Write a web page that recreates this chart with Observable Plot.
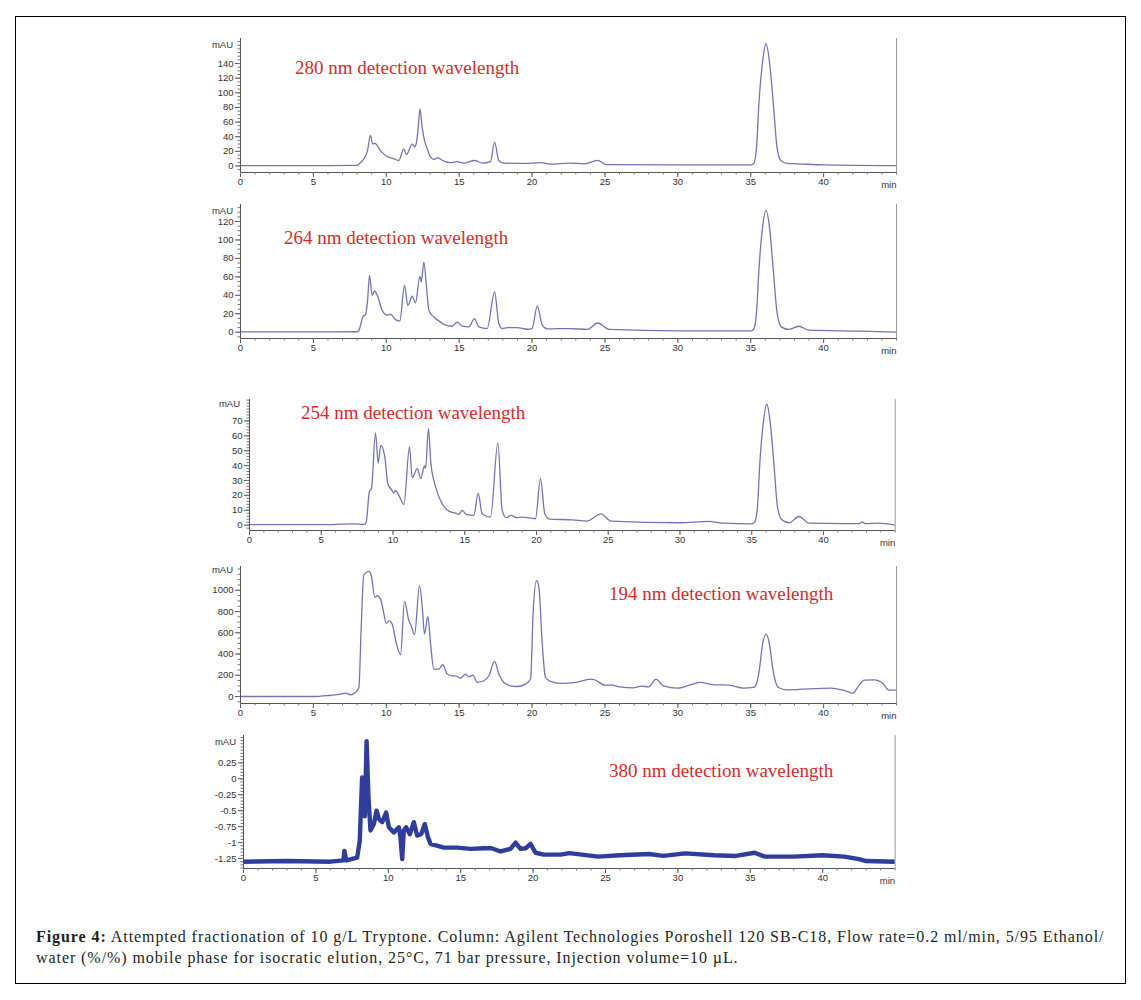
<!DOCTYPE html>
<html><head><meta charset="utf-8">
<script src="https://cdn.jsdelivr.net/npm/d3@7"></script>
<script src="https://cdn.jsdelivr.net/npm/@observablehq/plot@0.6"></script>
<style>
body{margin:0;background:#fff;}
#wrap{position:relative;width:1141px;height:1000px;overflow:hidden;}
#border{position:absolute;left:15px;top:16px;width:1111px;height:968px;border:1px solid #000;box-sizing:border-box;}
.panel{position:absolute;left:0;}
.lab{position:absolute;font-family:"Liberation Serif",serif;font-size:19px;line-height:20px;color:#d62b2b;white-space:nowrap;}
#cap{position:absolute;left:36px;top:926px;font-family:"Liberation Serif",serif;font-size:16px;line-height:21px;letter-spacing:0.93px;color:#231f20;white-space:nowrap;}
</style></head>
<body>
<div id="wrap">
<div id="border"></div>
<div id="cap"></div>
</div>
<script>
// ---- data ----
const xTicks = [0, 5, 10, 15, 20, 25, 30, 35, 40];
const xMinorTicks = d3.range(0, 46, 1);

const labels = ["280 nm detection wavelength", "264 nm detection wavelength", "254 nm detection wavelength", "194 nm detection wavelength", "380 nm detection wavelength"];

const t280 = [0, 5, 8.0, 8.2, 8.46, 8.7, 8.92, 9.06, 9.22, 9.6, 10.06, 10.52, 10.86, 11.2, 11.39, 11.78, 11.94, 12.05, 12.18, 12.31, 12.46, 12.62, 12.81, 13.04, 13.26, 13.54, 13.95, 14.4, 14.86, 15.3, 16.05, 16.58, 17.15, 17.43, 17.72, 18.06, 19.44, 20.58, 21.27, 22.6, 23.6, 24.5, 25.1, 30, 35.0, 35.2, 35.4, 35.56, 35.8, 36.05, 36.3, 36.55, 36.8, 37.05, 37.5, 38.2, 40, 45];
const v280 = [0.5, 0.5, 0.8, 4, 9.8, 20, 41.7, 30, 31, 21, 13, 9.8, 7.5, 23.5, 15.7, 30, 26, 30, 50, 78, 53, 35, 23.5, 12, 9, 11, 6.6, 4.5, 6, 4, 7.5, 4, 6, 32.5, 7.5, 4, 3.5, 4.5, 2.5, 4, 3, 7.7, 1.8, 1.4, 1.4, 3, 26, 85, 140, 167, 140, 85, 26, 7.7, 3.5, 3, 1.5, 0.5];

const t264 = [0, 5, 8.0, 8.12, 8.42, 8.58, 8.72, 8.85, 9.03, 9.19, 9.38, 9.72, 10.06, 10.29, 10.63, 10.93, 11.25, 11.48, 11.78, 12.0, 12.31, 12.4, 12.58, 12.76, 12.92, 13.26, 13.61, 13.95, 14.52, 14.87, 15.21, 15.67, 16.05, 16.35, 16.92, 17.43, 17.72, 17.95, 18.3, 18.98, 19.67, 20.0, 20.36, 20.7, 21.04, 22.6, 23.8, 24.5, 25.3, 30, 35.0, 35.2, 35.4, 35.56, 35.8, 36.05, 36.3, 36.55, 36.8, 37.1, 37.6, 38.3, 39.0, 42.5, 45];
const v264 = [0.3, 0.3, 0.5, 2, 17.6, 19, 35, 61.6, 40, 44.7, 40, 23.8, 18.4, 19.5, 13.7, 12.3, 50.8, 29, 39, 31.7, 60.5, 54.4, 76, 49, 23.8, 16.5, 12.3, 8.6, 6.5, 11, 6.5, 5.8, 14.8, 5.8, 4, 43.6, 9.4, 4, 5, 5, 3.2, 4, 28.5, 7.6, 3.6, 4, 3, 10, 3, 1.4, 1.4, 3, 22, 67, 112, 132, 112, 67, 22, 5.8, 3, 6.5, 2.2, 1.1, 0];

const t254 = [0, 5, 7.2, 8.0, 8.13, 8.36, 8.5, 8.78, 8.97, 9.15, 9.43, 9.64, 9.9, 10.06, 10.18, 10.41, 10.76, 11.15, 11.34, 11.69, 11.94, 12.2, 12.27, 12.47, 12.64, 12.85, 13.08, 13.43, 13.89, 14.36, 14.59, 14.82, 15.1, 15.63, 15.94, 16.21, 16.8, 17.31, 17.61, 17.89, 18.23, 18.65, 19.0, 19.93, 20.28, 20.58, 20.9, 22.5, 23.5, 24.5, 25.2, 30, 32, 33, 35, 35.2, 35.4, 35.56, 35.8, 36.05, 36.3, 36.55, 36.8, 37.1, 37.6, 38.3, 39, 42.5, 42.7, 42.9, 43.8, 45];
const v254 = [0.3, 0.3, 0.8, 0.5, 2, 22.7, 24.5, 62, 41.7, 53.6, 45.8, 27.8, 23.8, 21.5, 23.3, 20, 13.9, 52.5, 31.9, 37.9, 31.2, 40, 38, 64.9, 41.3, 30, 22.2, 14.4, 9.4, 8, 7.2, 9.9, 7.2, 6.5, 21.5, 7.6, 5.4, 55.2, 9.9, 5, 6.5, 5, 5.4, 4.3, 31.2, 7.6, 4, 3.6, 2.7, 7.6, 2.7, 1.6, 2.5, 1.3, 0.9, 2, 12, 40.8, 68, 81.2, 68, 40.8, 12, 3.6, 1.6, 5.8, 1.3, 1.0, 2.2, 1.0, 1.3, 0];

const t194 = [0, 5, 6, 6.86, 7.2, 7.55, 7.89, 8.12, 8.28, 8.46, 8.81, 8.97, 9.22, 9.38, 9.6, 9.77, 10.0, 10.18, 10.4, 10.7, 10.98, 11.25, 11.55, 11.71, 11.94, 12.28, 12.47, 12.62, 12.85, 13.04, 13.26, 13.61, 13.88, 14.18, 14.52, 14.75, 15.09, 15.43, 15.67, 15.94, 16.24, 16.7, 17.04, 17.43, 17.72, 18.06, 18.52, 18.98, 19.55, 19.9, 20.08, 20.31, 20.47, 20.7, 20.92, 21.27, 21.95, 23, 24, 24.3, 25, 25.5, 26, 27, 27.5, 28, 28.5, 29, 30, 31, 31.5, 32.5, 33.5, 34.5, 35.2, 35.4, 35.6, 35.8, 36.05, 36.3, 36.5, 36.7, 36.9, 37.5, 40.5, 41.5, 42, 42.4, 42.8, 43.5, 44, 44.5, 45];
const v194 = [0, 0, 9, 23, 32, 16, 40, 85, 650, 1148, 1179, 1139, 934, 950, 919, 825, 689, 714, 683, 494, 393, 896, 714, 667, 582, 1044, 840, 589, 752, 494, 258, 258, 299, 211, 195, 195, 173, 211, 187, 202, 132, 148, 195, 330, 211, 132, 101, 94, 117, 164, 808, 1091, 1028, 494, 179, 142, 123, 132, 164, 157, 107, 107, 91, 82, 97, 91, 164, 100, 79, 116, 132, 110, 107, 79, 85, 120, 260, 480, 588, 480, 274, 140, 85, 63, 79, 53, 31, 100, 154, 157, 132, 60, 60];

const t380 = [0, 3, 6, 6.9, 6.97, 7.1, 7.85, 8.03, 8.19, 8.31, 8.38, 8.5, 8.63, 8.77, 9.0, 9.19, 9.35, 9.58, 9.85, 10.04, 10.38, 10.73, 10.84, 10.96, 11.07, 11.23, 11.49, 11.76, 11.99, 12.27, 12.52, 12.73, 12.91, 13.84, 14.76, 15.68, 16.6, 17.13, 17.75, 18.44, 18.79, 19.13, 19.48, 19.82, 20.17, 20.74, 21.9, 22.5, 24.5, 26, 28, 29, 30.5, 32.5, 34, 35.3, 36, 38, 40, 41.5, 42.5, 43, 45];
const v380 = [-1.3, -1.29, -1.3, -1.28, -1.13, -1.28, -1.235, -0.97, 0.02, -0.24, -0.59, 0.59, -0.29, -0.81, -0.71, -0.50, -0.63, -0.68, -0.53, -0.76, -0.84, -0.76, -0.92, -1.26, -0.81, -0.76, -0.87, -0.68, -0.89, -0.87, -0.71, -0.91, -1.02, -1.08, -1.08, -1.10, -1.09, -1.09, -1.14, -1.10, -1.0, -1.10, -1.09, -1.02, -1.16, -1.19, -1.19, -1.166, -1.22, -1.20, -1.18, -1.21, -1.17, -1.20, -1.21, -1.16, -1.22, -1.22, -1.20, -1.22, -1.26, -1.29, -1.30];

const yTicks280 = [0, 20, 40, 60, 80, 100, 120, 140];
const yTicks264 = [0, 20, 40, 60, 80, 100, 120];
const yTicks254 = [0, 10, 20, 30, 40, 50, 60, 70];
const yTicks194 = [0, 200, 400, 600, 800, 1000];
const yTicks380 = [0.25, 0, -0.25, -0.5, -0.75, -1, -1.25];

// ---- layout ----
const panels = [
  {t: t280, v: v280, ticks: yTicks280, minorStep: 5, label: labels[0], top: 20, x0: 240, x45: 896, yTop: 38, yBot: 172, domain: [-8.9, 174.2], stroke: "#7474b4", sw: 1.3, curve: "monotone-x", mAUdx: -18, mAUdy: 6, lab: [295, 58]},
  {t: t264, v: v264, ticks: yTicks264, minorStep: 5, label: labels[1], top: 190, x0: 240, x45: 896, yTop: 204, yBot: 338, domain: [-6.8, 138.4], stroke: "#7474b4", sw: 1.3, curve: "monotone-x", mAUdx: -18, mAUdy: 6, lab: [284, 228]},
  {t: t254, v: v254, ticks: yTicks254, minorStep: 2, label: labels[2], top: 385, x0: 249, x45: 894.7, yTop: 399, yBot: 530, domain: [-3.6, 84.4], stroke: "#7474b4", sw: 1.3, curve: "monotone-x", mAUdx: -20, mAUdy: 4, lab: [301, 403]},
  {t: t194, v: v194, ticks: yTicks194, minorStep: 50, label: labels[3], top: 552, x0: 240, x45: 896, yTop: 566, yBot: 703, domain: [-66, 1224], stroke: "#7474b4", sw: 1.3, curve: "monotone-x", mAUdx: -18, mAUdy: 3, lab: [609, 584]},
  {t: t380, v: v380, ticks: yTicks380, minorStep: 0.05, label: labels[4], top: 721, x0: 243, x45: 894.6, yTop: 735, yBot: 868, domain: [-1.407, 0.679], stroke: "#2f3d9f", sw: 4.4, curve: "linear", mAUdx: -18, mAUdy: 6, lab: [609, 761]}
];

const W = 910;
const wrap = document.getElementById("wrap");
for (const p of panels) {
  const rows = p.t.map((t, i) => ({t, v: p.v[i]}));
  const minor = d3.range(Math.ceil(p.domain[0] / p.minorStep) * p.minorStep, p.domain[1], p.minorStep).map(d => +d.toFixed(4));
  const height = p.yBot + 22 - p.top;
  const chart = Plot.plot({
    width: W, height,
    marginLeft: p.x0, marginRight: W - p.x45, marginTop: p.yTop - p.top, marginBottom: 22,
    style: {background: "transparent", fontFamily: "'Liberation Sans', Arial, sans-serif", fontSize: "9.5px", color: "#333", overflow: "visible"},
    x: {domain: [0, 45], axis: null},
    y: {domain: p.domain, axis: null},
    marks: [
      Plot.ruleX([45], {stroke: "#9a9a9a", strokeWidth: 1}),
      Plot.line(rows, {x: "t", y: "v", stroke: p.stroke, strokeWidth: p.sw, curve: p.curve, clip: true}),
      Plot.ruleX([0], {stroke: "#555"}),
      Plot.ruleY([p.domain[0]], {stroke: "#555"}),
      Plot.axisY({ticks: p.ticks, tickSize: 5, tickPadding: 2, label: null, tickFormat: d => String(d), stroke: "#555", fill: "#333"}),
      Plot.axisY({ticks: minor, tickSize: 2.5, tickPadding: 0, label: null, tickFormat: () => "", stroke: "#777"}),
      Plot.axisX({ticks: xTicks, tickSize: 5, tickPadding: 1, label: null, tickFormat: d => String(d), stroke: "#555", fill: "#333"}),
      Plot.axisX({ticks: xMinorTicks, tickSize: 2.5, tickPadding: 0, label: null, tickFormat: () => "", stroke: "#777"}),
      Plot.text(["mAU"], {frameAnchor: "top-left", dx: p.mAUdx, dy: p.mAUdy, textAnchor: "middle", lineAnchor: "middle", fill: "#333"}),
      Plot.text(["min"], {frameAnchor: "bottom-right", dy: 12, textAnchor: "end", lineAnchor: "middle", fill: "#333"})
    ]
  });
  chart.classList.add("panel");
  chart.style.top = p.top + "px";
  chart.style.position = "absolute";
  chart.style.left = "0px";
  wrap.appendChild(chart);
  const lab = document.createElement("div");
  lab.className = "lab";
  lab.textContent = p.label;
  lab.style.left = p.lab[0] + "px";
  lab.style.top = p.lab[1] + "px";
  wrap.appendChild(lab);
}

document.getElementById("cap").innerHTML =
  "<b>Figure 4:</b> Attempted fractionation of 10 g/L Tryptone. Column: Agilent Technologies Poroshell 120 SB-C18, Flow rate=0.2 ml/min, 5/95 Ethanol/<br>" +
  "water (%/%) mobile phase for isocratic elution, 25°C, 71 bar pressure, Injection volume=10 µL.";
</script>
</body></html>
